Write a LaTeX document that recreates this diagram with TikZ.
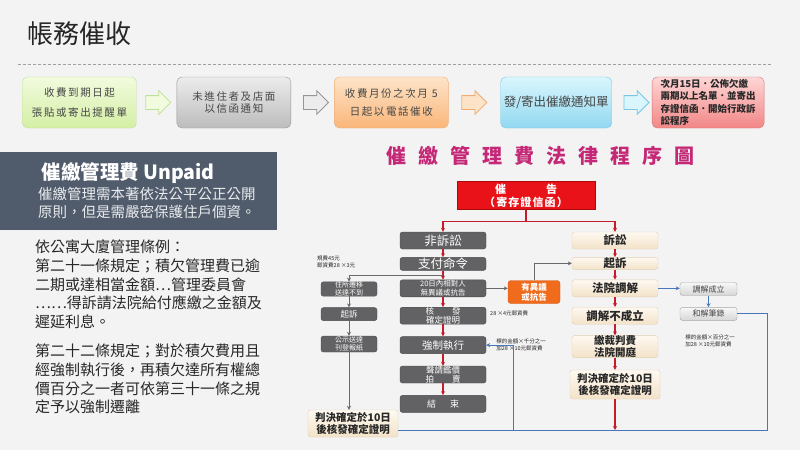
\documentclass[tikz,border=0pt]{standalone}
\usepackage{fontspec}
\setmainfont{Noto Sans CJK TC}
\definecolor{bgGray}{RGB}{243,243,243}
\definecolor{txtDark}{RGB}{40,40,40}
\definecolor{txtGray}{RGB}{70,70,70}
\definecolor{slate}{RGB}{80,92,108}
\definecolor{boxGray}{RGB}{98,98,100}
\definecolor{boxGrayD}{RGB}{75,75,78}
\definecolor{beigeT}{RGB}{254,249,241}
\definecolor{beigeB}{RGB}{243,226,200}
\definecolor{beigeD}{RGB}{226,208,180}
\definecolor{redBox}{RGB}{232,18,24}
\definecolor{redD}{RGB}{170,10,10}
\definecolor{orangeBox}{RGB}{240,108,28}
\definecolor{orangeD}{RGB}{215,90,20}
\definecolor{lineRed}{RGB}{196,28,42}
\definecolor{lineGray}{RGB}{105,105,108}
\definecolor{lineBlue}{RGB}{72,118,186}
\definecolor{titleMag}{RGB}{196,40,118}
\definecolor{grnT}{RGB}{242,251,222}
\definecolor{grnB}{RGB}{212,239,165}
\definecolor{grnD}{RGB}{190,224,150}
\definecolor{gryT}{RGB}{236,236,236}
\definecolor{gryB}{RGB}{188,188,188}
\definecolor{gryD}{RGB}{150,150,150}
\definecolor{orgT}{RGB}{253,228,200}
\definecolor{orgB}{RGB}{250,182,122}
\definecolor{orgD}{RGB}{240,172,112}
\definecolor{bluT}{RGB}{218,246,253}
\definecolor{bluB}{RGB}{145,216,240}
\definecolor{bluD}{RGB}{120,198,228}
\definecolor{pnkT}{RGB}{255,214,214}
\definecolor{pnkB}{RGB}{242,134,134}
\definecolor{pnkD}{RGB}{210,120,120}
\usetikzlibrary{arrows.meta,positioning,shapes.arrows,calc}

\begin{document}
\begin{tikzpicture}[x=1pt, y=-1pt,
  topbox/.style={draw, rounded corners=5pt, minimum width=114pt, minimum height=51pt,
              inner sep=0pt, align=center, text=txtGray,
              font=\fontsize{10.5}{12}\selectfont\addfontfeature{LetterSpace=15}},
  blockarr/.style={single arrow, draw, line width=0.8pt, minimum height=25pt, inner xsep=0pt,
              inner ysep=6.5pt, single arrow head extend=5pt},
  gbox/.style={draw=boxGrayD, fill=boxGray, rounded corners=2.5pt, text=white,
              minimum width=86pt, minimum height=17pt, inner sep=0pt, align=center},
  bbox/.style={draw=beigeD, top color=beigeT, bottom color=beigeB, rounded corners=2.5pt,
              text=txtDark, minimum width=86pt, minimum height=17pt, inner sep=0pt,
              align=center, font=\bfseries\fontsize{11.5}{13}\selectfont},
  sbox/.style={gbox, minimum width=56pt, minimum height=14pt, font=\fontsize{7}{8}\selectfont},
  lbox/.style={draw=gray!70, top color=gray!6, bottom color=gray!32, rounded corners=2.5pt,
              text=txtGray, minimum width=57pt, minimum height=13pt, inner sep=0pt,
              font=\fontsize{8}{9}\selectfont},
  note/.style={font=\fontsize{5.5}{6.5}\selectfont, text=txtDark, align=left, inner sep=0pt},
  rarr/.style={draw=lineRed, line width=1.1pt, -{Stealth[length=4pt,width=4pt]}},
  garr/.style={draw=lineGray, line width=0.8pt, -{Stealth[length=4pt,width=4pt]}},
  barr/.style={draw=lineBlue, line width=1pt, -{Stealth[length=4pt,width=4pt]}},
  bline/.style={draw=lineBlue, line width=1pt}
]
  \fill[bgGray] (0,0) rectangle (800,450);
  \useasboundingbox (0,0) rectangle (800,450);

  \node[anchor=west, font=\fontsize{26}{28}\selectfont, text=black!85] (ttl) at (24,34) {帳務催收};
  \draw[gray!75, line width=0.6pt, dash pattern=on 3pt off 2pt] (18,64) -- (772,64);

  \node[topbox, draw=grnD, top color=grnT, bottom color=grnB] (t1) at (79.5,102.5) {收費到期日起\\[8pt]張貼或寄出提醒單};
  \node[topbox, draw=gryD, top color=gryT, bottom color=gryB, right=40pt of t1] (t2) {未進住者及店面\\以信函通知};
  \node[topbox, draw=orgD, top color=orgT, bottom color=orgB, right=43pt of t2] (t3) {收費月份之次月 5\\[6pt]日起以電話催收};
  \node[topbox, draw=bluD, top color=bluT, bottom color=bluB, right=52pt of t3, minimum width=111pt,
        font=\fontsize{12.5}{14}\selectfont] (t4) {發/寄出催繳通知單};
  \node[topbox, draw=pnkD, top color=pnkT, bottom color=pnkB, right=40pt of t4, minimum width=112pt,
        align=left, text=txtDark, font=\bfseries\fontsize{9.5}{12.3}\selectfont] (t5)
        {次月15日．公佈欠繳\\兩期以上名單．並寄出\\存證信函．開始行政訴\\訟程序};

  \node[blockarr, draw=grnD, fill=grnT] (a1) at ($(t1.east)!0.45!(t2.west)$) {};
  \node[blockarr, draw=gryD, fill=gryT] (a2) at ($(t2.east)!0.5!(t3.west)$) {};
  \node[blockarr, draw=orgD, fill=orgT] (a3) at ($(t3.east)!0.43!(t4.west)$) {};
  \node[blockarr, draw=bluD, fill=bluT] (a4) at ($(t4.east)!0.53!(t5.west)$) {};

  \node[fill=slate, minimum width=277pt, minimum height=78pt, inner sep=0pt, anchor=north west] (pnl) at (0,152) {};
  \node[anchor=west, text=white, font=\bfseries\fontsize{19.5}{21}\selectfont] (pttl) at (38,173) {催繳管理費 Unpaid};
  \node[anchor=north west, inner sep=0pt, align=left, text=white!88!slate,
        font=\fontsize{14.5}{18}\selectfont] (psub) at (38,187) {催繳管理需本著依法公平公正公開\\原則，但是需嚴密保護住戶個資。};
  \node[anchor=north west, inner sep=0pt, align=left, text=txtDark, font=\fontsize{15}{18.6}\selectfont] (body) at (35,240)
        {依公寓大廈管理條例：\\第二十一條規定；積欠管理費已逾\\二期或達相當金額…管理委員會\\……得訴請法院給付應繳之金額及\\遲延利息。\\[11pt]第二十二條規定；對於積欠費用且\\經強制執行後，再積欠達所有權總\\價百分之一者可依第三十一條之規\\定予以強制遷離};

  \node[text=titleMag, font=\bfseries\fontsize{20}{22}\selectfont] (ftl) at (540,156)
        {\addfontfeature{LetterSpace=60}催繳管理費法律程序圖};
  \node[draw=redD, fill=redBox, text=white, minimum width=138pt, minimum height=28pt, inner sep=0pt,
        align=center, font=\bfseries\fontsize{11}{13}\selectfont] (cg) at (526,195.5)
        {催\hspace{40pt}告\\{\addfontfeature{LetterSpace=10}（寄存證信函）}};

  \node[gbox, font=\fontsize{12.5}{14}\selectfont] (nfs) at (443,240.5) {非訴訟};
  \node[gbox, below=8pt of nfs, minimum height=13pt, font=\fontsize{12.5}{14}\selectfont] (zfml) {支付命令};
  \node[gbox, below=9pt of zfml, font=\fontsize{7.5}{8.5}\selectfont] (nyy) {20日內相對人\\無異議或抗告};
  \node[gbox, below=10pt of nyy, font=\fontsize{8.5}{9}\selectfont] (hf) {核\hspace{18pt}發\\確定證明};
  \node[gbox, below=12pt of hf, font=\fontsize{10.5}{12}\selectfont] (qz) {強制執行};
  \node[gbox, below=12pt of qz, font=\fontsize{8.5}{9}\selectfont] (sq) {聲請鑑價\\拍\hspace{18pt}賣};
  \node[gbox, below=12pt of sq, font=\fontsize{9}{10}\selectfont] (js) {結\hspace{14pt}束};

  \node[bbox] (ss) at (615,240.5) {訴訟};
  \node[bbox, below=8pt of ss, minimum height=12pt] (qs) {起訴};
  \node[bbox, below=10pt of qs] (fy) {法院調解};
  \node[bbox, below=10pt of fy] (bcl) {調解不成立};
  \node[bbox, below=11pt of bcl, font=\bfseries\fontsize{10.5}{12}\selectfont] (jcf) {繳裁判費\\法院開庭};
  \node[bbox, below=12pt of jcf, minimum width=90pt, minimum height=29pt,
        font=\bfseries\fontsize{10.5}{12.5}\selectfont] (pj) {判決確定於10日\\後核發確定證明};

  \node[sbox] (zs) at (349,289) {住所遷移\\送達不到};
  \node[sbox, below=11pt of zs, minimum height=13pt, font=\fontsize{8.5}{10}\selectfont] (qs2) {起訴};
  \node[sbox, below=15pt of qs2, minimum height=16pt] (gs) {公示送達\\刊登報紙};
  \node[bbox, minimum width=90pt, minimum height=27pt, font=\bfseries\fontsize{10.5}{12.5}\selectfont] (pj2)
        at (353,423.5) {判決確定於10日\\後核發確定證明};

  \node[draw=orangeD, fill=orangeBox, rounded corners=3pt, text=white, minimum width=52pt, minimum height=23pt,
        inner sep=0pt, align=center, font=\bfseries\fontsize{8.5}{10}\selectfont] (ob) at (534,292) {有異議\\或抗告};
  \node[lbox] (tj) at (708.5,289) {調解成立};
  \node[lbox, below=11.5pt of tj] (hj) {和解筆錄};

  \node[note, anchor=west] (n1) at (317,262) {規費45元\\郵資費28 ×3元};
  \node[note, anchor=west] (n2) at (490,313) {28 ×4元郵資費};
  \node[note] (n3) at (521,345) {標的金額×千分之一\\加28 ×10元郵資費};
  \node[note] (n4) at (710,341) {標的金額×百分之一\\加28 ×10元郵資費};

  \coordinate (br) at (767,430);
  \coordinate (rt) at (513,430);

  \draw[rarr] (cg.south) -- ++(0,12) -| (nfs.north);
  \draw[rarr] (cg.south) -- ++(0,12) -| (ss.north);
  \foreach \a/\b in {nfs/zfml, zfml/nyy, nyy/hf, hf/qz, qz/sq, sq/js, ss/qs, qs/fy, fy/bcl, bcl/jcf, jcf/pj}
    \draw[rarr] (\a) -- (\b);
  \draw[rarr] (pj) -- (pj |- br);

  \draw[garr] ($(zfml.south)!0.5!(nyy.north)$) -| (zs.north);
  \draw[garr] (zs) -- (qs2);
  \draw[garr] (qs2) -- (gs);
  \draw[garr] (gs) -- (gs |- pj2.north);
  \draw[garr] (nyy.east) -- (nyy.east -| ob.west);
  \draw[garr] (ob.north) |- (qs.west);

  \draw[barr] (fy.east) -- (fy.east -| tj.west);
  \draw[barr] (tj) -- (hj);
  \draw[bline] (hj.east) -| (br) -- (pj2.east |- br);
  \draw[barr] (rt) |- (qz.east);
\end{tikzpicture}
\end{document}
